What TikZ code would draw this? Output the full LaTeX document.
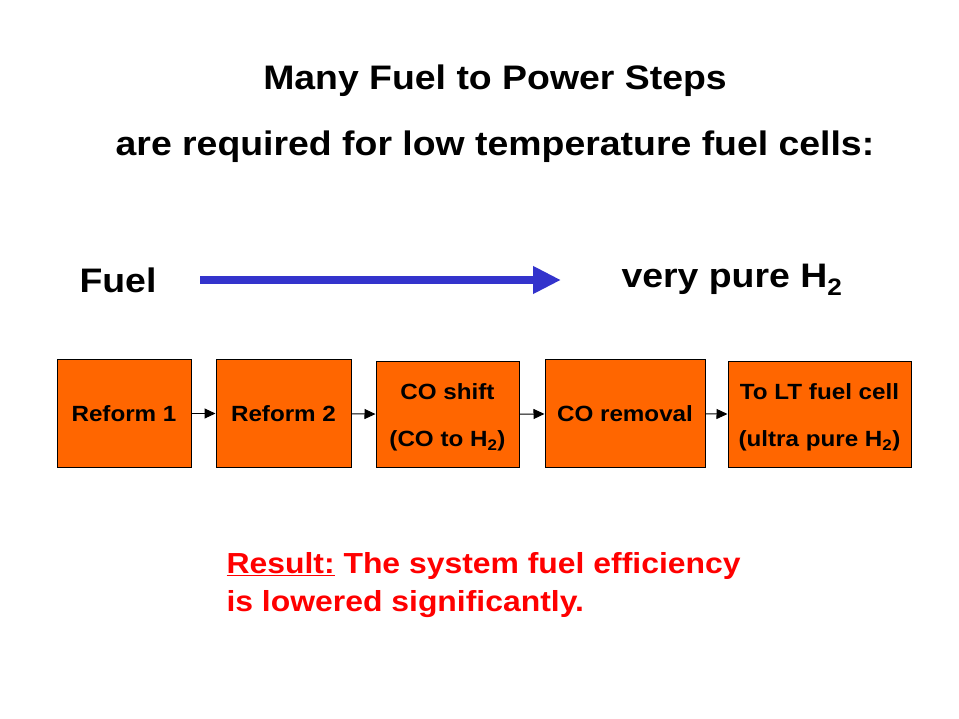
\documentclass[tikz,border=0pt]{standalone}
\usepackage{fontspec}
\setmainfont[FakeStretch=1.1]{Liberation Sans}
\usetikzlibrary{arrows.meta}
\definecolor{boxorange}{HTML}{FF6600}
\definecolor{flowblue}{HTML}{3333CC}
\tikzset{
  stepbox/.style={draw, fill=boxorange, line width=1pt, font=\bfseries\fontsize{22}{26}\selectfont, align=center},
  link/.style={line width=1pt, -{Triangle[length=11pt,width=10pt]}},
  bigtext/.style={font=\bfseries\fontsize{34}{40}\selectfont}
}
\begin{document}
\begin{tikzpicture}[x=1pt,y=-1pt]
  \useasboundingbox (0,0) rectangle (959,719);
  \node[bigtext] (title1) at (495,81) {Many Fuel to Power Steps};
  \node[bigtext] (title2) at (495,147) {are required for low temperature fuel cells:};
  \node[bigtext, anchor=west] (fuel) at (76,280) {Fuel};
  \node[bigtext, anchor=west] (pure) at (618,280) {very pure H\textsubscript{2}};
  \coordinate (flowA) at (200,280);
  \coordinate (flowB) at (561,280);
  \draw[flowblue, line width=8pt, -{Triangle[length=28pt,width=26pt]}] (flowA) -- (flowB);

  \node[stepbox, minimum width=134, minimum height=107] (R1) at (124,413.5) {Reform 1};
  \node[stepbox, minimum width=135, minimum height=107] (R2) at (283.5,413.5) {Reform 2};
  \node[stepbox, minimum width=143, minimum height=105] (S) at (447.5,414.5) {\rule{0pt}{22pt}CO shift\\[21pt](CO to H\textsubscript{2})};
  \node[stepbox, minimum width=160, minimum height=107] (C) at (625,413.5) {CO removal};
  \node[stepbox, minimum width=183, minimum height=105] (L) at (819.5,414.5) {\rule{0pt}{22pt}To LT fuel cell\\[21pt](ultra pure H\textsubscript{2})};
  \draw[link] (R1) -- (R2);
  \draw[link] (R2) -- (S);
  \draw[link] (S) -- (C);
  \draw[link] (C) -- (L);

  \node[anchor=west, text=red, font=\bfseries\fontsize{29}{38}\selectfont, align=left] (result) at (223,585)
    {\underline{Result:} The system fuel efficiency\\is lowered significantly.};
\end{tikzpicture}
\end{document}
